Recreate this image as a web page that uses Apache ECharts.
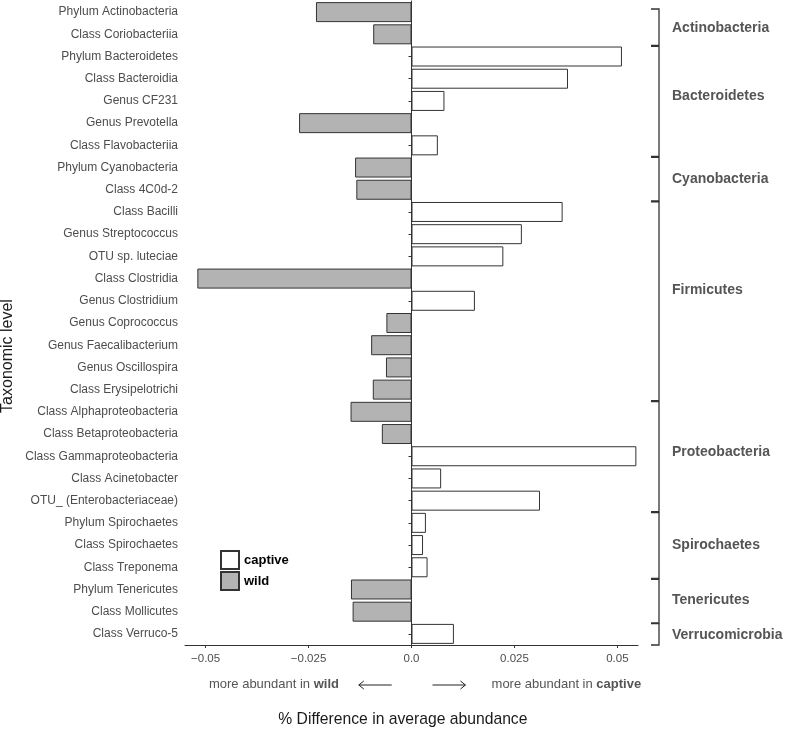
<!DOCTYPE html>
<html>
<head>
<meta charset="utf-8">
<script src="https://cdn.jsdelivr.net/npm/echarts@6/dist/echarts.min.js"></script>
<style>
html,body{margin:0;padding:0;background:#fff;}
#chart{width:787px;height:732px;}
</style>
</head>
<body>
<div id="chart"></div>
<script>
// ---- data ----
var categories = [
  'Phylum Actinobacteria','Class Coriobacteriia','Phylum Bacteroidetes','Class Bacteroidia',
  'Genus CF231','Genus Prevotella','Class Flavobacteriia','Phylum Cyanobacteria','Class 4C0d-2',
  'Class Bacilli','Genus Streptococcus','OTU sp. luteciae','Class Clostridia','Genus Clostridium',
  'Genus Coprococcus','Genus Faecalibacterium','Genus Oscillospira','Class Erysipelotrichi',
  'Class Alphaproteobacteria','Class Betaproteobacteria','Class Gammaproteobacteria',
  'Class Acinetobacter','OTU_ (Enterobacteriaceae)','Phylum Spirochaetes','Class Spirochaetes',
  'Class Treponema','Phylum Tenericutes','Class Mollicutes','Class Verruco-5'
];
var captive = [
  null, null, 0.0511, 0.0380, 0.0080, null, 0.0064, null, null,
  0.0367, 0.0268, 0.0223, null, 0.0154,
  null, null, null, null,
  null, null, 0.0546, 0.0072, 0.0312,
  0.0035, 0.0028, 0.0039, null, null, 0.0103
];
var wild = [
  -0.0232, -0.0093, null, null, null, -0.0273, null, -0.0137, -0.0134,
  null, null, null, -0.0520, null,
  -0.0061, -0.0098, -0.0062, -0.0094,
  -0.0148, -0.0072, null, null, null,
  null, null, null, -0.0147, -0.0143, null
];
var tickValues = [-0.05, -0.025, 0, 0.025, 0.05];
var tickLabels = ['\u22120.05', '\u22120.025', '0.0', '0.025', '0.05'];
var groupNames = ['Actinobacteria','Bacteroidetes','Cyanobacteria','Firmicutes','Proteobacteria','Spirochaetes','Tenericutes','Verrucomicrobia'];
var groupStart = [0, 2, 7, 9, 18, 23, 26, 28];
var groupEnd   = [1, 6, 8, 17, 22, 25, 27, 28];

(function () {
  var FONT = '"Liberation Sans", Arial, Helvetica, sans-serif';
  // label anchor for each group, in category-index units (layout only)
  var groupLabelAt = [0.7, 3.8, 7.5, 12.5, 19.8, 24.0, 26.5, 28.05];
  var chart = echarts.init(document.getElementById('chart'), null, {renderer: 'canvas'});
  var barBorder = {borderColor: '#333333', borderWidth: 1};

  var option = {
    animation: false,
    backgroundColor: '#ffffff',
    textStyle: {fontFamily: FONT},
    grid: {left: 185, right: 149, top: 1, bottom: 87, containLabel: false},
    legend: {
      orient: 'vertical', left: 220, top: 550, padding: 0,
      itemWidth: 18, itemHeight: 18, itemGap: 1,
      icon: 'rect',
      data: ['captive', 'wild'],
      textStyle: {fontFamily: FONT, fontSize: 13, fontWeight: 'bold', color: '#000'}
    },
    xAxis: {
      type: 'value', min: -0.055, max: 0.055,
      axisLine: {show: true, lineStyle: {color: '#333', width: 1}},
      axisTick: {show: true, length: 3, lineStyle: {color: '#333'}, customValues: tickValues},
      axisLabel: {
        color: '#4d4d4d', fontSize: 11.5, fontFamily: FONT, margin: 8,
        customValues: tickValues,
        formatter: function (v) {
          for (var i = 0; i < tickValues.length; i++) {
            if (Math.abs(tickValues[i] - v) < 1e-9) return tickLabels[i];
          }
          return '';
        }
      },
      splitLine: {show: false}
    },
    yAxis: {
      type: 'category', data: categories, inverse: true,
      axisLine: {show: true, lineStyle: {color: '#333', width: 1}},
      axisTick: {show: true, length: 3, alignWithLabel: true, lineStyle: {color: '#333'}},
      axisLabel: {color: '#4d4d4d', fontSize: 12, fontFamily: FONT, margin: 7},
      splitLine: {show: false}
    },
    series: [
      {
        name: 'captive', type: 'bar', data: captive, barWidth: '90%', barGap: '-100%',
        itemStyle: Object.assign({color: '#ffffff'}, barBorder),
        markLine: {
          silent: true, symbol: ['none', 'none'], label: {show: false},
          lineStyle: {color: '#333', width: 1, type: 'solid'},
          data: [{xAxis: 0}]
        }
      },
      {
        name: 'wild', type: 'bar', data: wild, barWidth: '90%', barGap: '-100%',
        itemStyle: Object.assign({color: '#b3b3b3'}, barBorder)
      }
    ]
  };
  chart.setOption(option);

  // ---- annotations (brackets, labels, titles) ----
  function yPix(i) { return chart.convertToPixel({yAxisIndex: 0}, i); }
  function xPix(v) { return chart.convertToPixel({xAxisIndex: 0}, v); }
  var band = yPix(1) - yPix(0);
  var gridTop = yPix(0) - 0.5 * band;
  var bx = xPix(0.055) + 21;
  var graphics = [];
  for (var g = 0; g < groupNames.length; g++) {
    var y0 = Math.max(yPix(groupStart[g]) - 0.46 * band, gridTop + 8);
    var y1 = yPix(groupEnd[g]) + 0.5 * band;
    graphics.push({
      type: 'polyline', silent: true,
      shape: {points: [[bx - 8, y0], [bx, y0], [bx, y1], [bx - 8, y1]]},
      style: {stroke: '#333', lineWidth: 1.3, fill: null}
    });
    graphics.push({
      type: 'text', silent: true, x: bx + 13, y: yPix(0) + groupLabelAt[g] * band,
      style: {text: groupNames[g], fill: '#555', font: 'bold 14px ' + FONT, align: 'left', verticalAlign: 'middle'}
    });
  }
  var gridBottom = yPix(categories.length - 1) + 0.5 * band;
  var ay = gridBottom + 39;
  graphics.push({
    type: 'text', silent: true, x: xPix(-0.0334), y: ay,
    style: {text: 'more abundant in {b|wild}', fill: '#555', font: '13px ' + FONT, align: 'center', verticalAlign: 'middle',
      rich: {b: {fontWeight: 'bold', fontSize: 13, fontFamily: FONT, fill: '#555'}}}
  });
  graphics.push({
    type: 'text', silent: true, x: xPix(0.0376), y: ay,
    style: {text: 'more abundant in {b|captive}', fill: '#555', font: '13px ' + FONT, align: 'center', verticalAlign: 'middle',
      rich: {b: {fontWeight: 'bold', fontSize: 13, fontFamily: FONT, fill: '#555'}}}
  });
  function arrow(x1, x2, yy) {
    var dir = x2 > x1 ? 1 : -1;
    graphics.push({type: 'line', silent: true, shape: {x1: x1, y1: yy, x2: x2, y2: yy}, style: {stroke: '#222', lineWidth: 1}});
    graphics.push({type: 'polyline', silent: true,
      shape: {points: [[x2 - dir * 5, yy - 4], [x2, yy], [x2 - dir * 5, yy + 4]]},
      style: {stroke: '#222', lineWidth: 1, fill: null}});
  }
  arrow(xPix(-0.0048), xPix(-0.0128), ay + 1);
  arrow(xPix(0.0051), xPix(0.0131), ay + 1);
  graphics.push({
    type: 'text', silent: true, x: xPix(-0.0021), y: 720,
    style: {text: '% Difference in average abundance', fill: '#1a1a1a', font: '15.7px ' + FONT, align: 'center', verticalAlign: 'middle'}
  });
  graphics.push({
    type: 'text', silent: true, x: 8, y: 356, rotation: Math.PI / 2,
    style: {text: 'Taxonomic level', fill: '#1a1a1a', font: '16px ' + FONT, align: 'center', verticalAlign: 'middle'}
  });
  chart.setOption({graphic: graphics});
})();
</script>
</body>
</html>
